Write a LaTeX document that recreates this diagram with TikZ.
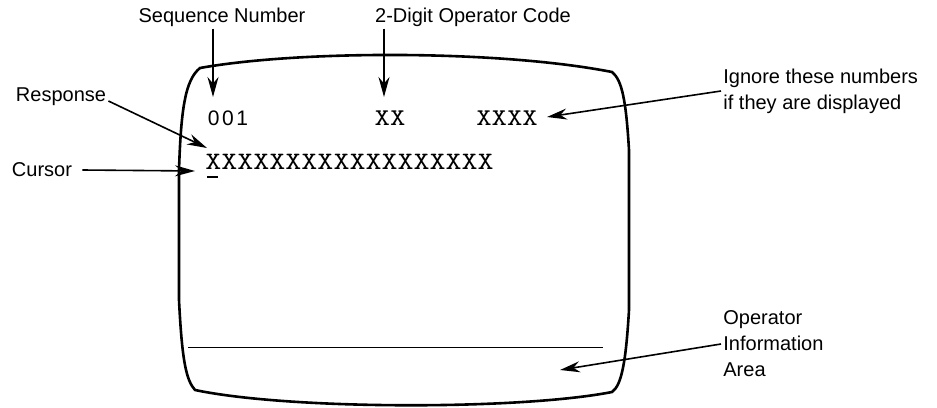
\documentclass[tikz,border=0pt]{standalone}
\usepackage{fontspec}
\setmainfont{Liberation Sans}
\newfontfamily\scrfont[FakeStretch=1.22]{lmmono10-regular.otf}
\usetikzlibrary{arrows.meta}

\begin{document}
\begin{tikzpicture}[x=0.5pt,y=-0.5pt,>={Stealth[length=10pt,width=5.5pt]},
  lbl/.style={font=\fontsize{10}{13}\selectfont,inner sep=1pt},
  scr/.style={font=\scrfont\fontsize{12}{13}\selectfont,inner sep=0pt},
  arr/.style={->,line width=0.8pt}]
\useasboundingbox (0,0) rectangle (937,407);

% screen
\draw[line width=1.3pt,line join=round] (200,68) .. controls (300,50) and (500,50) .. (612,72)
  .. controls (622,80) and (626,100) .. (629,150) -- (629,310)
  .. controls (626,360) and (622,385) .. (612,392)
  .. controls (520,410) and (290,410) .. (195,390)
  .. controls (186,380) and (182,360) .. (179,300) -- (179,170)
  .. controls (181,110) and (185,80) .. (200,68) -- cycle;
\draw[line width=0.5pt] (188,347) -- (603,347);

\node[lbl] (seq) at (222,17) {Sequence Number};
\node[lbl] (code) at (473,17) {2-Digit Operator Code};
\node[lbl] (resp) at (61,97) {Response};
\node[lbl] (curs) at (42,170) {Cursor};
\node[lbl,align=left,anchor=west] (ign) at (721,91) {Ignore these numbers\\if they are displayed};
\node[lbl,align=left,anchor=west] (opinfo) at (721,344) {Operator\\Information\\Area};

\node[font=\addfontfeature{LetterSpace=12}\fontsize{10.5}{12}\selectfont,inner sep=0pt] (seqno) at (228,118) {001};
\node[scr] (opcode) at (390,118) {XX};
\node[scr] (extra) at (507,118) {XXXX};
\node[scr,font=\scrfont\fontsize{12.5}{14}\selectfont,anchor=west] (resline) at (205,162) {XXXXXXXXXXXXXXXXXX};
\node[fill,inner sep=0pt,minimum width=5.5pt,minimum height=1pt] (cursmark) at (212,177) {};

\coordinate (seqtip) at (213,97);
\coordinate (codetip) at (384,97);
\coordinate (resptip) at (207,148);
\coordinate (curstip) at (195,171);
\coordinate (igntip) at (547,117);
\coordinate (optip) at (560,370);

\draw[arr] (seqtip |- seq.south) -- (seqtip);
\draw[arr] (codetip |- code.south) -- (codetip);
\draw[arr] ([yshift=-2pt]resp.east) -- (resptip);
\draw[arr] ([xshift=4pt]curs.east) -- (curstip);
\draw[arr] (ign.west) -- (igntip);
\draw[arr] (opinfo.west) -- (optip);
\end{tikzpicture}
\end{document}
